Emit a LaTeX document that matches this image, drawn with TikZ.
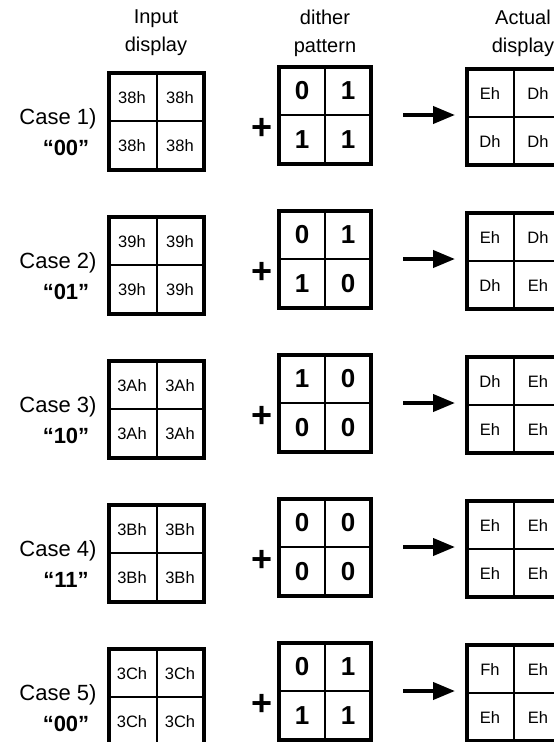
\documentclass[tikz,border=0pt]{standalone}
\usepackage{fontspec}
\setmainfont{Liberation Sans}
\usetikzlibrary{arrows.meta}
\begin{document}
\begin{tikzpicture}[x=1pt,y=-1pt,
  outerbox/.style={draw, line width=4pt, inner sep=0pt, outer sep=0pt},
  innerline/.style={line width=2pt},
  hdr/.style={font=\fontsize{20}{24}\selectfont, align=center, inner sep=0pt},
  casetxt/.style={font=\fontsize{22}{26}\selectfont, inner sep=0pt},
  codetxt/.style={font=\fontsize{22}{26}\selectfont\bfseries, inner sep=0pt},
  hexcell/.style={font=\fontsize{16.5}{18}\selectfont, inner sep=0pt},
  bitcell/.style={font=\fontsize{26}{28}\selectfont\bfseries, inner sep=0pt},
  plustxt/.style={font=\fontsize{36}{36}\selectfont\bfseries, inner sep=0pt},
  arr/.style={line width=4pt, -{Triangle[length=22pt,width=17pt]}}
]
\useasboundingbox (0,0) rectangle (554,742);
\clip (0,0) rectangle (554,742);

\node[hdr] (h1) at (156,33) {Input\\[4pt]display};
\node[hdr] (h2) at (325,33) {dither\\[4pt]pattern};
\node[hdr] (h3) at (523,33) {Actual\\[4pt]display};

\foreach \k/\hx/\code/\da/\db/\dc/\dd/\aa/\ab/\ac/\ad in {
  1/38h/00/0/1/1/1/Eh/Dh/Dh/Dh,
  2/39h/01/0/1/1/0/Eh/Dh/Dh/Eh,
  3/3Ah/10/1/0/0/0/Dh/Eh/Eh/Eh,
  4/3Bh/11/0/0/0/0/Eh/Eh/Eh/Eh,
  5/3Ch/00/0/1/1/1/Fh/Eh/Eh/Eh}{
  \pgfmathsetmacro\c{121+144*(\k-1)}
  % case labels
  \node[casetxt] (case\k) at (58,\c-2) {Case \k)};
  \node[codetxt] (code\k) at (66,\c+27) {``\code''};
  % input grid
  \node[outerbox, minimum width=95pt, minimum height=97pt] (in\k) at (156.5,\c) {};
  \draw[innerline] (in\k.north) -- (in\k.south);
  \draw[innerline] (in\k.west) -- (in\k.east);
  \node[hexcell] (in\k a) at (132,\c-23) {\hx};
  \node[hexcell] (in\k b) at (180,\c-23) {\hx};
  \node[hexcell] (in\k c) at (132,\c+25) {\hx};
  \node[hexcell] (in\k d) at (180,\c+25) {\hx};
  % plus
  \node[plustxt] (plus\k) at (262,\c+8) {+};
  % dither grid
  \node[outerbox, minimum width=92pt, minimum height=97pt] (di\k) at (325,\c-6) {};
  \draw[innerline] (di\k.north) -- (di\k.south);
  \draw[innerline] (di\k.west) -- (di\k.east);
  \node[bitcell] (di\k a) at (302,\c-30) {\da};
  \node[bitcell] (di\k b) at (348,\c-30) {\db};
  \node[bitcell] (di\k c) at (302,\c+19) {\dc};
  \node[bitcell] (di\k d) at (348,\c+19) {\dd};
  % actual grid
  \node[outerbox, minimum width=94pt, minimum height=96pt] (ac\k) at (514,\c-4) {};
  \draw[innerline] (ac\k.north) -- (ac\k.south);
  \draw[innerline] (ac\k.west) -- (ac\k.east);
  \node[hexcell] (ac\k a) at (490,\c-27) {\aa};
  \node[hexcell] (ac\k b) at (538,\c-27) {\ab};
  \node[hexcell] (ac\k c) at (490,\c+21) {\ac};
  \node[hexcell] (ac\k d) at (538,\c+21) {\ad};
  % arrow
  \draw[arr, shorten <=32pt, shorten >=12pt] (di\k.east) -- (ac\k.west |- di\k.east);
}
\end{tikzpicture}
\end{document}
